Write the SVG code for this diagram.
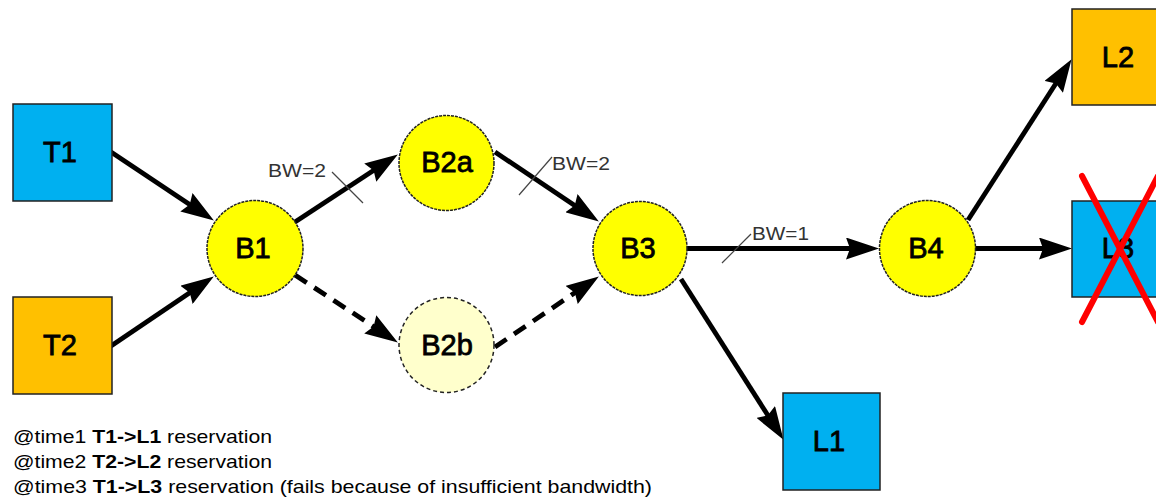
<svg xmlns="http://www.w3.org/2000/svg" width="1156" height="501" viewBox="0 0 1156 501">
  <style>
    .box { stroke: #222; stroke-width: 1.5; }
    .blue { fill: #00B0F0; }
    .orange { fill: #FFC000; }
    .node { fill: #FFFF00; stroke: #222; stroke-width: 1.5; stroke-dasharray: 3 1; }
    .node-idle { fill: #FFFFCC; stroke: #222; stroke-width: 1.5; stroke-dasharray: 4 3; }
    .label { font-family: "Liberation Sans", Arial, sans-serif; font-size: 29px; fill: #000; stroke: #000; stroke-width: 0.8; text-anchor: middle; }
    .edge { fill: none; stroke: #000; stroke-width: 4.8; marker-end: url(#head); }
    .dashed { stroke-dasharray: 14 9; }
    .tick { stroke: #444; stroke-width: 1.2; }
    .bw { font-family: "Liberation Sans", Arial, sans-serif; font-size: 18px; fill: #333; }
    .note { font-family: "Liberation Sans", Arial, sans-serif; font-size: 19px; fill: #000; }
    .cross { stroke: #FF0000; stroke-width: 6; stroke-linecap: round; }
  </style>
  <defs>
    <marker id="head" viewBox="0 0 33 22" refX="12" refY="11" markerWidth="33" markerHeight="22" markerUnits="userSpaceOnUse" orient="auto">
      <path d="M0,0 L33,11 L0,22 L4,11 Z" fill="#000"/>
    </marker>
  </defs>

  <rect width="1156" height="501" fill="#FFFFFF"/>

  <!-- connectors -->
  <g id="connectors">
    <path class="edge" d="M111,152 L196.4,208.9"/>
    <path class="edge" d="M111,346 L196.4,288.2"/>
    <path class="edge" d="M295,222 L380.3,166"/>
    <path class="edge dashed" d="M295,275 L380.3,331"/>
    <path class="edge" d="M495,152 L581.4,209.9"/>
    <path class="edge dashed" d="M495,347 L581.5,288.2"/>
    <path class="edge" d="M687,248.5 L858,248.5"/>
    <path class="edge" d="M681,279 L772.2,422.1"/>
    <path class="edge" d="M968,220 L1060.2,76.8"/>
    <path class="edge" d="M975,248.5 L1051,248.5"/>
    <!-- bandwidth annotations -->
    <line class="tick" x1="332" y1="172" x2="363" y2="203"/>
    <text class="bw" x="268" y="177" textLength="58" lengthAdjust="spacingAndGlyphs">BW=2</text>
    <line class="tick" x1="519" y1="195" x2="552" y2="157"/>
    <text class="bw" x="552" y="170" textLength="58" lengthAdjust="spacingAndGlyphs">BW=2</text>
    <line class="tick" x1="722" y1="263" x2="751" y2="234"/>
    <text class="bw" x="752" y="240" textLength="57" lengthAdjust="spacingAndGlyphs">BW=1</text>
  </g>

  <!-- sources -->
  <g id="T1">
    <rect class="box blue" x="13" y="104" width="99" height="97"/>
    <text class="label" x="60" y="162">T1</text>
  </g>
  <g id="T2">
    <rect class="box orange" x="13" y="297" width="99" height="97"/>
    <text class="label" x="60" y="355">T2</text>
  </g>

  <!-- routers -->
  <g id="B1">
    <circle class="node" cx="255" cy="248.5" r="48"/>
    <text class="label" x="253" y="258">B1</text>
  </g>
  <g id="B2a">
    <circle class="node" cx="446.5" cy="163" r="47.5"/>
    <text class="label" x="447" y="172">B2a</text>
  </g>
  <g id="B2b">
    <circle class="node-idle" cx="446.5" cy="345" r="47.5"/>
    <text class="label" x="447" y="355">B2b</text>
  </g>
  <g id="B3">
    <circle class="node" cx="640" cy="248.5" r="47"/>
    <text class="label" x="638" y="258">B3</text>
  </g>
  <g id="B4">
    <circle class="node" cx="927.5" cy="248.5" r="48"/>
    <text class="label" x="926" y="258">B4</text>
  </g>

  <!-- destinations -->
  <g id="L1">
    <rect class="box blue" x="783" y="393" width="97" height="97"/>
    <text class="label" x="829" y="451">L1</text>
  </g>
  <g id="L2">
    <rect class="box orange" x="1072" y="9" width="97" height="96"/>
    <text class="label" x="1118" y="67">L2</text>
  </g>
  <g id="L3">
    <rect class="box blue" x="1072" y="201" width="97" height="96"/>
    <text class="label" x="1118" y="258">L3</text>
    <line class="cross" x1="1082" y1="176" x2="1158" y2="322"/>
    <line class="cross" x1="1082" y1="322" x2="1158" y2="176"/>
  </g>

  <!-- reservation log -->
  <g id="notes">
    <text class="note" x="13" y="443" textLength="259" lengthAdjust="spacingAndGlyphs">@time1 <tspan font-weight="bold">T1-&gt;L1</tspan> reservation</text>
    <text class="note" x="13" y="468" textLength="259" lengthAdjust="spacingAndGlyphs">@time2 <tspan font-weight="bold">T2-&gt;L2</tspan> reservation</text>
    <text class="note" x="13" y="493" textLength="639" lengthAdjust="spacingAndGlyphs">@time3 <tspan font-weight="bold">T1-&gt;L3</tspan> reservation (fails because of insufficient bandwidth)</text>
  </g>
</svg>
